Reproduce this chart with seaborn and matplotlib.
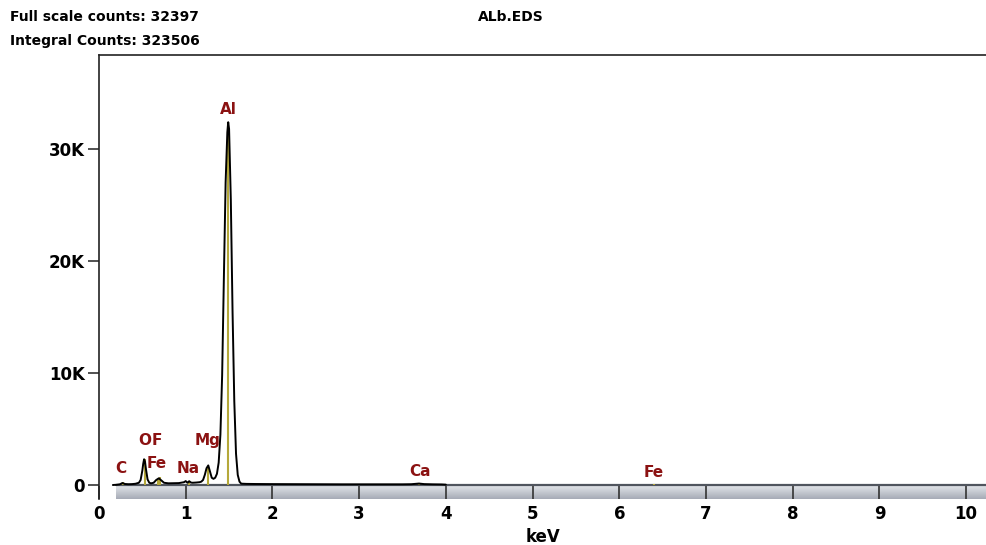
import numpy as np
import pandas as pd
import matplotlib
matplotlib.use("Agg")
import matplotlib.pyplot as plt
import seaborn as sns
from matplotlib.ticker import FuncFormatter
from matplotlib.colors import LinearSegmentedColormap

sns.set_theme(style="white")
plt.rcParams['font.family'] = ['DejaVu Sans']
plt.rcParams['text.color'] = 'black'
plt.rcParams['xtick.color'] = 'black'
plt.rcParams['ytick.color'] = 'black'
plt.rcParams['axes.labelcolor'] = 'black'

# ---- data ----
energy_kev = [0.16, 0.20, 0.24, 0.27, 0.30, 0.34, 0.38, 0.42, 0.46, 0.48, 0.50, 0.51,
              0.52, 0.53, 0.54, 0.56, 0.58, 0.60, 0.63, 0.66, 0.69, 0.72, 0.75, 0.80,
              0.86, 0.92, 0.98, 1.00, 1.02, 1.04, 1.06, 1.08, 1.12, 1.16, 1.18, 1.20,
              1.22, 1.24, 1.26, 1.28, 1.30, 1.32, 1.34, 1.36, 1.38, 1.40, 1.42, 1.44,
              1.46, 1.48, 1.49, 1.50, 1.52, 1.54, 1.56, 1.58, 1.60, 1.62, 1.64, 1.70,
              1.80, 2.00, 2.40, 2.80, 3.20, 3.50, 3.60, 3.69, 3.75, 3.85, 3.95, 4.00]
counts = [0, 20, 60, 180, 90, 70, 80, 110, 200, 450, 1300, 1900,
          2300, 2100, 1500, 500, 200, 150, 200, 450, 600, 400, 200, 150,
          160, 170, 250, 350, 200, 340, 220, 200, 220, 250, 300, 450,
          900, 1500, 1750, 1200, 650, 550, 650, 1000, 2000, 4500, 9800, 18500,
          27000, 31500, 32397, 31800, 25500, 15500, 7500, 2800, 900, 300, 120, 100,
          90, 80, 70, 60, 60, 60, 70, 130, 80, 60, 50, 30]

elements = ["C", "O", "F", "Fe", "Na", "Mg", "Al", "Ca", "Fe"]
element_kev = [0.277, 0.525, 0.677, 0.705, 1.041, 1.254, 1.487, 3.690, 6.400]
marker_height = [250, 2300, 500, 700, 350, 1600, 32397, 200, 100]
label_kev = [0.25, 0.525, 0.665, 0.67, 1.03, 1.257, 1.49, 3.70, 6.40]
label_y = [1430, 4000, 4000, 1960, 1430, 4000, 33500, 1250, 1160]

full_scale = 32397
integral_counts = 323506
title = "ALb.EDS"
x_ticks = list(range(0, 11))
y_ticks = [0, 10000, 20000, 30000]

# ---- figure ----
fig = plt.figure(figsize=(9.87, 5.45), dpi=100)
ax = fig.add_axes([99/987, 1 - 499/545, 1 - 99/987, (499 - 55)/545])

xmax = 10.24
ylow, yhigh = -1250, 38400
ax.set_xlim(0, xmax)
ax.set_ylim(ylow, yhigh)

# gradient band under baseline
cmap = LinearSegmentedColormap.from_list("band", ["#e4e7eb", "#a6abb6"])
grad = np.linspace(0, 1, 64).reshape(-1, 1)
ax.imshow(grad, cmap=cmap, aspect="auto", extent=[0.2, xmax, ylow, 0],
          origin="upper", zorder=0)
ax.plot([0.2, xmax], [0, 0], color="#50555e", lw=1.6, zorder=1)

# element marker lines
for e, h in zip(element_kev, marker_height):
    ax.vlines(e, 0, h, color="#b5a83a", lw=1.5, zorder=2)

df = pd.DataFrame({"keV": energy_kev, "counts": counts})
sns.lineplot(data=df, x="keV", y="counts", color="black", lw=1.4, ax=ax,
             zorder=3, estimator=None)

for name, lx, ly in zip(elements, label_kev, label_y):
    ax.text(lx, ly, name, color="#8b1212", fontsize=11, fontweight="bold",
            ha="center", va="center", zorder=4)

ax.set_xticks(x_ticks)
ax.set_yticks(y_ticks)
ax.yaxis.set_major_formatter(FuncFormatter(lambda v, p: "0" if v == 0 else f"{int(v/1000)}K"))
ax.tick_params(axis="x", direction="in", length=9.5, width=1.2, color="#333333",
               pad=4, labelsize=12, bottom=True, labelcolor="black")
ax.tick_params(axis="y", direction="out", length=8, width=1.2, color="#333333",
               pad=2, labelsize=12, left=True, labelcolor="black")
for lab in ax.get_xticklabels() + ax.get_yticklabels():
    lab.set_fontweight("bold")

ax.set_xlabel("keV", fontsize=12, fontweight="bold", labelpad=4, color="black")
ax.set_ylabel("")

for side in ["right", "bottom"]:
    ax.spines[side].set_visible(False)
for side in ["left", "top"]:
    ax.spines[side].set_visible(True)
    ax.spines[side].set_color("#222222")
    ax.spines[side].set_linewidth(1.2)

fig.text(10/987, 1 - 17/545, f"Full scale counts: {full_scale}", fontsize=10,
         fontweight="bold", ha="left", va="center", color="black")
fig.text(10/987, 1 - 41/545, f"Integral Counts: {integral_counts}", fontsize=10,
         fontweight="bold", ha="left", va="center", color="black")
fig.text(511/987, 1 - 17/545, title, fontsize=10, fontweight="bold",
         ha="center", va="center", color="black")

fig.savefig("out.png", dpi=100)
